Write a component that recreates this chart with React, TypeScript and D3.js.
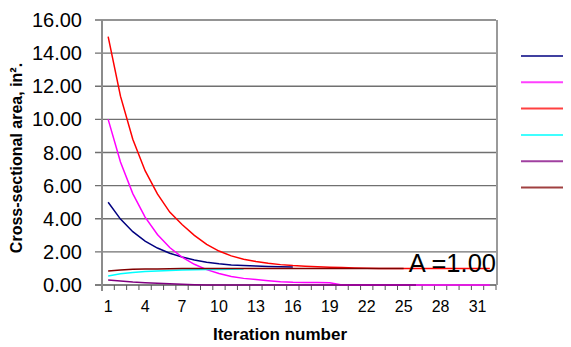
import React, { useEffect, useRef } from "react";
import * as d3 from "d3";

const iterations = [
  1, 2, 3, 4, 5, 6, 7, 8, 9, 10, 11, 12, 13, 14, 15, 16,
  17, 18, 19, 20, 21, 22, 23, 24, 25, 26, 27, 28, 29, 30, 31, 32,
];
const xTickLabels = [1, 4, 7, 10, 13, 16, 19, 22, 25, 28, 31];
const yTicks = [0, 2, 4, 6, 8, 10, 12, 14, 16];

const navy = [5.0, 3.98, 3.22, 2.65, 2.23, 1.92, 1.69, 1.51, 1.38, 1.28, 1.21, 1.17, 1.14, 1.12, 1.1, 1.09];
const magenta = [
  10, 7.43, 5.52, 4.1, 3.05, 2.26, 1.68, 1.25, 0.93, 0.69, 0.51, 0.4, 0.33, 0.26, 0.2, 0.16,
  0.15, 0.15, 0.14, 0, 0, 0, 0, 0, 0, 0, 0, 0, 0, 0, 0, 0,
];
const red = [
  15, 11.4, 8.8, 6.9, 5.5, 4.4, 3.65, 3.0, 2.45, 2.05, 1.76, 1.56, 1.42, 1.31, 1.23, 1.17,
  1.13, 1.1, 1.07, 1.05, 1.03, 1.01, 1, 1, 1, 1, 1, 1, 1, 1, 1, 1,
];
const cyan = [0.55, 0.68, 0.76, 0.81, 0.85, 0.88, 0.9, 0.92, 0.93, 0.94, 0.95, 0.96];
const purple = [
  0.3, 0.24, 0.18, 0.14, 0.11, 0.08, 0.05, 0.02, 0, 0, 0, 0, 0, 0, 0, 0,
  0, 0, 0, 0, 0, 0, 0, 0, 0, 0,
];
const brown = [
  0.85, 0.9, 0.95, 0.96, 0.97, 0.98, 1.0, 1.0, 1.0, 1.0, 1.0, 1.0, 1.0, 1.0, 1.0, 1.0,
  1.0, 1.0, 1.0, 1.0, 1.0, 1.0, 1.0, 1.0, 1.0,
];

const series = [
  { values: navy, color: "#000080" },
  { values: magenta, color: "#ff00ff" },
  { values: red, color: "#ff0000" },
  { values: cyan, color: "#00ffff" },
  { values: purple, color: "#800080" },
  { values: brown, color: "#800000" },
];

const FONT = "'Liberation Sans', Arial, sans-serif";

export default function App() {
  const svgRef = useRef<SVGSVGElement>(null);
  const width = 571;
  const height = 347;
  const plot = { left: 102, right: 496, top: 20, bottom: 285 };

  useEffect(() => {
    const svg = d3.select(svgRef.current);
    svg.selectAll("*").remove();

    const x = d3
      .scaleBand<number>()
      .domain(iterations)
      .range([plot.left, plot.right])
      .paddingInner(0)
      .paddingOuter(0);
    const cx = (i: number) => (x(iterations[i]) as number) + x.bandwidth() / 2;

    const y = d3.scaleLinear().domain([0, 16]).range([plot.bottom, plot.top]);

    svg.append("rect").attr("width", width).attr("height", height).attr("fill", "#fff");

    // gridlines + y ticks
    svg
      .selectAll(".grid")
      .data(yTicks)
      .enter()
      .append("line")
      .attr("x1", plot.left - 7)
      .attr("x2", plot.right)
      .attr("y1", (d) => y(d))
      .attr("y2", (d) => y(d))
      .attr("stroke", (d) => (d === 0 ? "#555" : "#707070"))
      .attr("stroke-width", 1.3);

    svg
      .selectAll(".ylab")
      .data(yTicks)
      .enter()
      .append("text")
      .attr("x", 82)
      .attr("y", (d) => y(d) + 7)
      .attr("text-anchor", "end")
      .attr("font-family", FONT)
      .attr("font-size", 20)
      .attr("fill", "#000")
      .text((d) => d3.format(".2f")(d));

    // left axis and right border
    svg
      .append("line")
      .attr("x1", plot.left)
      .attr("x2", plot.left)
      .attr("y1", plot.top)
      .attr("y2", plot.bottom + 6)
      .attr("stroke", "#8c8c8c")
      .attr("stroke-width", 2);
    svg
      .append("line")
      .attr("x1", plot.right + 1)
      .attr("x2", plot.right + 1)
      .attr("y1", plot.top)
      .attr("y2", plot.bottom)
      .attr("stroke", "#9a9a9a")
      .attr("stroke-width", 2);

    // x ticks at category boundaries
    const bounds = iterations.map((d) => x(d) as number).concat([plot.right]);
    svg
      .selectAll(".xtick")
      .data(bounds.slice(1))
      .enter()
      .append("line")
      .attr("x1", (d) => d)
      .attr("x2", (d) => d)
      .attr("y1", plot.bottom)
      .attr("y2", plot.bottom + 5)
      .attr("stroke", "#555")
      .attr("stroke-width", 1);

    svg
      .selectAll(".xlab")
      .data(xTickLabels)
      .enter()
      .append("text")
      .attr("x", (d) => cx(iterations.indexOf(d)))
      .attr("y", 312)
      .attr("text-anchor", "middle")
      .attr("font-family", FONT)
      .attr("font-size", 16)
      .attr("fill", "#000")
      .text((d) => String(d));

    // series lines
    const line = d3
      .line<number>()
      .x((_, i) => cx(i))
      .y((d) => y(d));

    series.forEach((s) => {
      svg
        .append("path")
        .datum(s.values)
        .attr("fill", "none")
        .attr("stroke", s.color)
        .attr("stroke-width", 1.5)
        .attr("d", line);
    });

    // annotation
    svg
      .append("text")
      .attr("x", 496)
      .attr("y", 272)
      .attr("text-anchor", "end")
      .attr("font-family", FONT)
      .attr("font-size", 25.5)
      .attr("fill", "#000")
      .text("A =1.00");

    // legend (line keys only)
    series.forEach((s, i) => {
      svg
        .append("line")
        .attr("x1", 521)
        .attr("x2", 563)
        .attr("y1", 56 + i * 26.3)
        .attr("y2", 56 + i * 26.3)
        .attr("stroke", s.color)
        .attr("stroke-opacity", 0.75)
        .attr("stroke-width", 2);
    });

    // axis titles
    svg
      .append("text")
      .attr("x", 280)
      .attr("y", 340)
      .attr("text-anchor", "middle")
      .attr("font-family", FONT)
      .attr("font-weight", "bold")
      .attr("font-size", 17)
      .attr("fill", "#000")
      .text("Iteration number");

    svg
      .append("text")
      .attr("transform", "translate(22,158) rotate(-90)")
      .attr("text-anchor", "middle")
      .attr("font-family", FONT)
      .attr("font-weight", "bold")
      .attr("font-size", 16)
      .attr("fill", "#000")
      .text("Cross-sectional area, in²." );
  }, []);

  return (
    <svg
      ref={svgRef}
      width={width}
      height={height}
      style={{ position: "absolute", left: 0, top: 0, display: "block" }}
    />
  );
}
